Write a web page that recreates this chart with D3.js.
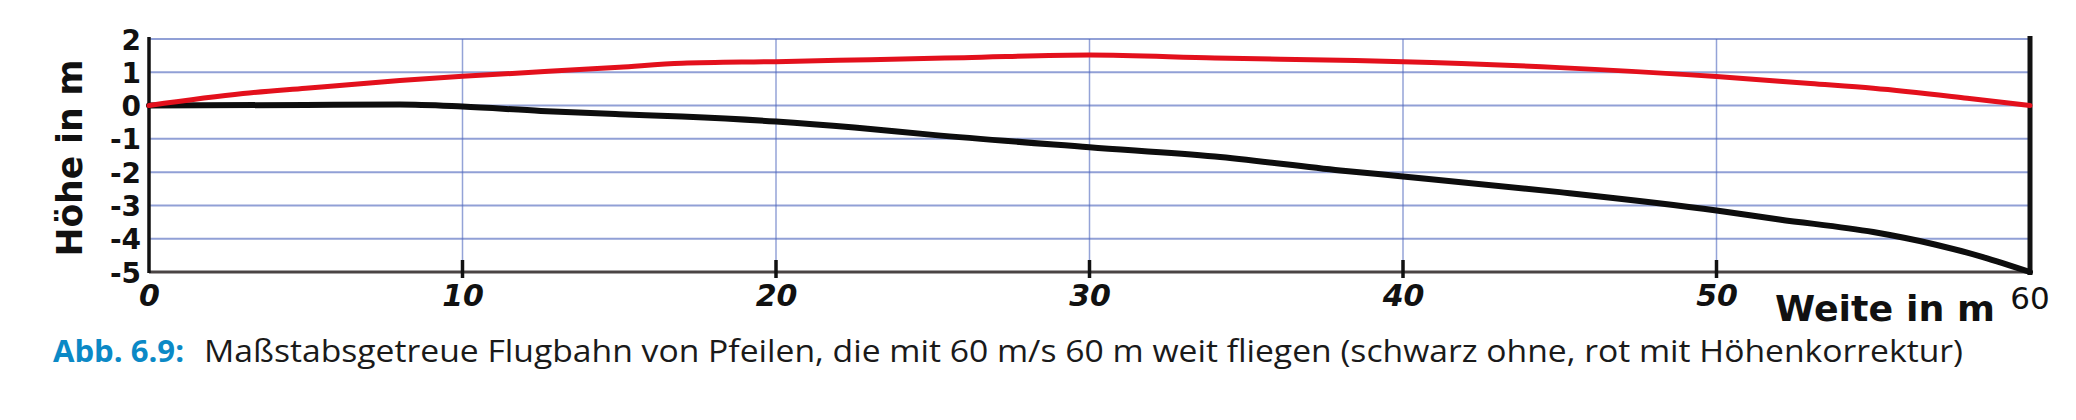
<!DOCTYPE html>
<html>
<head>
<meta charset="utf-8">
<script src="https://cdn.jsdelivr.net/npm/d3@7"></script>
<style>
  html, body { margin: 0; padding: 0; background: #ffffff; }
  svg { display: block; }
</style>
</head>
<body>
<svg id="chart" width="2076" height="420"></svg>
<script>
// ---- data ----
const xTicks = [0, 10, 20, 30, 40, 50];
const xTickLabels = ["0", "10", "20", "30", "40", "50"];
const yTicks = [2, 1, 0, -1, -2, -3, -4, -5];
const yTickLabels = ["2", "1", "0", "-1", "-2", "-3", "-4", "-5"];

// red: mit Höhenkorrektur
const redX = [0, 3, 5, 8, 10, 15, 17, 20, 23, 26, 30, 34, 38, 40, 45, 50, 53, 55, 58, 60];
const redY = [0, 0.36, 0.52, 0.75, 0.88, 1.15, 1.27, 1.32, 1.38, 1.44, 1.52, 1.43, 1.36, 1.32, 1.14, 0.87, 0.66, 0.52, 0.22, 0];

// black: ohne Korrektur
const blackX = [0, 5, 8, 10, 12.5, 15, 17, 20, 22.5, 25, 30, 34, 38, 40, 45, 50, 52, 55, 57, 58.5, 60];
const blackY = [0, 0.02, 0.03, -0.03, -0.16, -0.26, -0.33, -0.48, -0.66, -0.88, -1.25, -1.53, -1.95, -2.13, -2.6, -3.15, -3.42, -3.8, -4.18, -4.55, -5];

const xTitle = "Weite in m";
const yTitle = "Höhe in m";
const endLabel = "60";
const captionLead = "Abb. 6.9:";
const captionText = "Maßstabsgetreue Flugbahn von Pfeilen, die mit 60 m/s 60 m weit fliegen (schwarz ohne, rot mit Höhenkorrektur)";

// ---- drawing ----
const svg = d3.select("#chart");
const x = d3.scaleLinear().domain([0, 60]).range([149, 2030]);
const y = d3.scaleLinear().domain([-5, 2]).range([272, 39]);

// horizontal blue grid lines
svg.append("g").selectAll("line").data(yTicks.filter(d => d > -5)).join("line")
  .attr("x1", x(0)).attr("x2", x(60))
  .attr("y1", d => y(d)).attr("y2", d => y(d))
  .attr("stroke", "#4d66bd").attr("stroke-opacity", 0.62).attr("stroke-width", 2);

// vertical blue grid lines
svg.append("g").selectAll("line").data(xTicks.filter(d => d > 0)).join("line")
  .attr("x1", d => x(d)).attr("x2", d => x(d))
  .attr("y1", y(2)).attr("y2", y(-5))
  .attr("stroke", "#4d66bd").attr("stroke-opacity", 0.6).attr("stroke-width", 1.5);

// bottom axis line
svg.append("line").attr("x1", x(0)).attr("x2", x(60)).attr("y1", y(-5)).attr("y2", y(-5))
  .attr("stroke", "#4a4444").attr("stroke-width", 3);
// small tick marks
svg.append("g").selectAll("line").data(xTicks.filter(d => d > 0)).join("line")
  .attr("x1", d => x(d)).attr("x2", d => x(d))
  .attr("y1", y(-5) - 12).attr("y2", y(-5) + 6)
  .attr("stroke", "#111").attr("stroke-width", 3.5);
// left axis
svg.append("line").attr("x1", x(0)).attr("x2", x(0)).attr("y1", y(2) - 2).attr("y2", y(-5) + 1)
  .attr("stroke", "#111").attr("stroke-width", 3.5);
// right axis
svg.append("line").attr("x1", x(60)).attr("x2", x(60)).attr("y1", y(2) - 3).attr("y2", y(-5) + 3)
  .attr("stroke", "#111").attr("stroke-width", 5);

// curves
const line = d3.line().x(d => x(d[0])).y(d => y(d[1])).curve(d3.curveMonotoneX);
svg.append("path").datum(blackX.map((v, i) => [v, blackY[i]]))
  .attr("d", line).attr("fill", "none").attr("stroke", "#0d0d0d").attr("stroke-width", 6)
  .attr("stroke-linecap", "round").attr("stroke-linejoin", "round");
svg.append("path").datum(redX.map((v, i) => [v, redY[i]]))
  .attr("d", line).attr("fill", "none").attr("stroke", "#e3101c").attr("stroke-width", 5)
  .attr("stroke-linecap", "round").attr("stroke-linejoin", "round");

// y axis tick labels
const yAxis = d3.axisLeft(y).tickValues(yTicks).tickSize(0).tickPadding(8)
  .tickFormat((d, i) => yTickLabels[i]);
const gy = svg.append("g").attr("transform", `translate(${x(0)},0)`).call(yAxis);
gy.select(".domain").remove();
gy.selectAll("text").attr("font-family", "DejaVu Sans").attr("font-weight", "bold")
  .attr("font-size", 28).attr("fill", "#111").attr("dy", "0.36em");

// x axis tick labels
const xAxis = d3.axisBottom(x).tickValues(xTicks).tickSize(0).tickPadding(13)
  .tickFormat((d, i) => xTickLabels[i]);
const gx = svg.append("g").attr("transform", `translate(0,${y(-5)})`).call(xAxis);
gx.select(".domain").remove();
gx.selectAll("text").attr("font-family", "DejaVu Sans").attr("font-weight", "bold")
  .attr("font-style", "italic").attr("font-size", 30).attr("fill", "#111");

// end label 60
svg.append("text").attr("x", x(60)).attr("y", 309).attr("text-anchor", "middle")
  .attr("font-family", "DejaVu Sans").attr("font-size", 31).attr("fill", "#111").text(endLabel);

// axis titles
svg.append("text").attr("x", 1775).attr("y", 321)
  .attr("font-family", "DejaVu Sans").attr("font-weight", "bold").attr("font-size", 36)
  .attr("textLength", 220).attr("lengthAdjust", "spacingAndGlyphs")
  .attr("fill", "#111").text(xTitle);
svg.append("text").attr("transform", "translate(82,158) rotate(-90)").attr("text-anchor", "middle")
  .attr("font-family", "DejaVu Sans").attr("font-weight", "bold").attr("font-size", 36)
  .attr("textLength", 197).attr("lengthAdjust", "spacingAndGlyphs")
  .attr("fill", "#111").text(yTitle);

// caption
svg.append("text").attr("x", 53).attr("y", 362)
  .attr("font-family", "Open Sans").attr("font-weight", "bold").attr("font-size", 31)
  .attr("textLength", 131).attr("lengthAdjust", "spacingAndGlyphs")
  .attr("fill", "#0b89c6").text(captionLead);
svg.append("text").attr("x", 204).attr("y", 362)
  .attr("font-family", "Open Sans").attr("font-size", 31)
  .attr("textLength", 1759).attr("lengthAdjust", "spacingAndGlyphs")
  .attr("fill", "#1a1a1a").text(captionText);
</script>
</body>
</html>
